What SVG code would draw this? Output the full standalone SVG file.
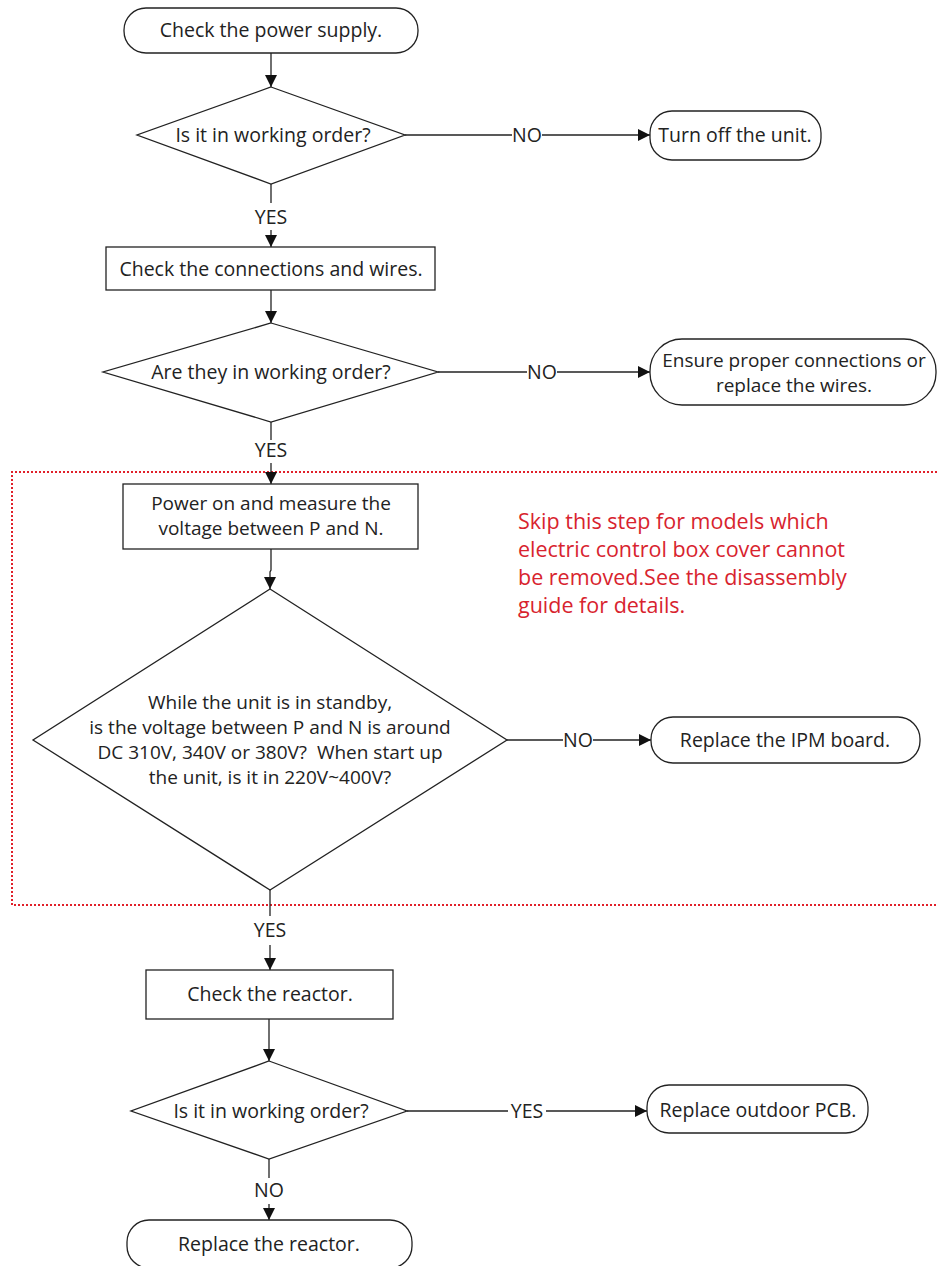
<svg xmlns="http://www.w3.org/2000/svg" width="937" height="1266" viewBox="0 0 937 1266">
<defs>
<marker id="arr" viewBox="0 0 10 10" refX="10" refY="5" markerWidth="12" markerHeight="12" markerUnits="userSpaceOnUse" orient="auto">
<path d="M0,0 L10,5 L0,10 Z" fill="#111"/>
</marker>
<style>
.shape{fill:#fff;stroke:#222;stroke-width:1.3}
.t{font-family:"Open Sans","Noto Sans",sans-serif;font-size:19.5px;fill:#222;text-anchor:middle}
.t2{font-family:"Open Sans","Noto Sans",sans-serif;font-size:19px;fill:#222;text-anchor:middle}
.lbl{font-family:"Open Sans","Noto Sans",sans-serif;font-size:19.5px;fill:#222;text-anchor:middle}
.c{stroke:#222;stroke-width:1.3;fill:none}
.red{font-family:"Open Sans","Noto Sans",sans-serif;font-size:21.5px;fill:#d8232e}
.dot{stroke:#e0202a;stroke-width:2;stroke-dasharray:2,2;fill:none}
</style>
</defs>
<rect width="937" height="1266" fill="#fff"/>
<path id="zone" class="dot" d="M937,472 H12 V905 H937"/>
<g id="connectors">
<path class="c" d="M271,53 V87" marker-end="url(#arr)"/>
<path class="c" d="M405,135 H512"/>
<path class="c" d="M542,135 H650" marker-end="url(#arr)"/>
<text class="lbl" x="527" y="142">NO</text>
<path class="c" d="M271,184 V203"/>
<text class="lbl" x="271" y="224">YES</text>
<path class="c" d="M271,230 V247" marker-end="url(#arr)"/>
<path class="c" d="M271,290 V323" marker-end="url(#arr)"/>
<path class="c" d="M438,372 H527"/>
<path class="c" d="M557,372 H650" marker-end="url(#arr)"/>
<text class="lbl" x="542" y="379">NO</text>
<path class="c" d="M271,422 V440"/>
<text class="lbl" x="271" y="457">YES</text>
<path class="c" d="M271,463 V484" marker-end="url(#arr)"/>
<path class="c" d="M271,549 V570 L270,572 V589" marker-end="url(#arr)"/>
<path class="c" d="M507,740 H563"/>
<path class="c" d="M593,740 H651" marker-end="url(#arr)"/>
<text class="lbl" x="578" y="747">NO</text>
<path class="c" d="M270,890 V916"/>
<text class="lbl" x="270" y="937">YES</text>
<path class="c" d="M270,945 V970" marker-end="url(#arr)"/>
<path class="c" d="M269,1019 V1061" marker-end="url(#arr)"/>
<path class="c" d="M407,1111 H508"/>
<path class="c" d="M546,1111 H647" marker-end="url(#arr)"/>
<text class="lbl" x="527" y="1118">YES</text>
<path class="c" d="M269,1159 V1178"/>
<text class="lbl" x="269" y="1197">NO</text>
<path class="c" d="M269,1204 V1220" marker-end="url(#arr)"/>
</g>
<g id="n1">
<rect class="shape" x="124" y="8" width="294" height="45" rx="22" ry="22"/>
<text class="t" x="271" y="37">Check the power supply.</text>
</g>
<g id="d1">
<polygon class="shape" points="271,87 405,135 271,184 137,135"/>
<text class="t" x="273" y="142">Is it in working order?</text>
</g>
<g id="t1">
<rect class="shape" x="650" y="111" width="171" height="49" rx="22" ry="22"/>
<text class="t" x="735" y="142">Turn off the unit.</text>
</g>
<g id="n2">
<rect class="shape" x="106" y="247" width="329" height="43"/>
<text class="t" x="271" y="276">Check the connections and wires.</text>
</g>
<g id="d2">
<polygon class="shape" points="271,323 438,372 271,422 103,372"/>
<text class="t" x="271" y="379">Are they in working order?</text>
</g>
<g id="t2">
<rect class="shape" x="650" y="339" width="286" height="66" rx="32" ry="32"/>
<text class="t2" x="794" y="367">Ensure proper connections or</text>
<text class="t2" x="794" y="392">replace the wires.</text>
</g>
<g id="n3">
<rect class="shape" x="123" y="484" width="295" height="65"/>
<text class="t2" x="271" y="510">Power on and measure the</text>
<text class="t2" x="271" y="535">voltage between P and N.</text>
</g>
<g id="note">
<text class="red" x="518" y="529">Skip this step for models which</text>
<text class="red" x="518" y="557">electric control box cover cannot</text>
<text class="red" x="518" y="585">be removed.See the disassembly</text>
<text class="red" x="518" y="613">guide for details.</text>
</g>
<g id="d3">
<polygon class="shape" points="270,589 507,740 270,890 33,740"/>
<text class="t2" x="270" y="709">While the unit is in standby,</text>
<text class="t2" x="270" y="734">is the voltage between P and N is around</text>
<text class="t2" x="270" y="759" xml:space="preserve">DC 310V, 340V or 380V?  When start up</text>
<text class="t2" x="270" y="784">the unit, is it in 220V~400V?</text>
</g>
<g id="t3">
<rect class="shape" x="651" y="717" width="269" height="46" rx="22" ry="22"/>
<text class="t" x="785" y="747">Replace the IPM board.</text>
</g>
<g id="n4">
<rect class="shape" x="146" y="970" width="247" height="49"/>
<text class="t" x="270" y="1001">Check the reactor.</text>
</g>
<g id="d4">
<polygon class="shape" points="269,1061 407,1111 269,1159 131,1111"/>
<text class="t" x="271" y="1118">Is it in working order?</text>
</g>
<g id="t4">
<rect class="shape" x="647" y="1085" width="221" height="48" rx="22" ry="22"/>
<text class="t" x="758" y="1117">Replace outdoor PCB.</text>
</g>
<g id="t5">
<rect class="shape" x="127" y="1220" width="285" height="48" rx="22" ry="22"/>
<text class="t" x="269" y="1251">Replace the reactor.</text>
</g>
</svg>
